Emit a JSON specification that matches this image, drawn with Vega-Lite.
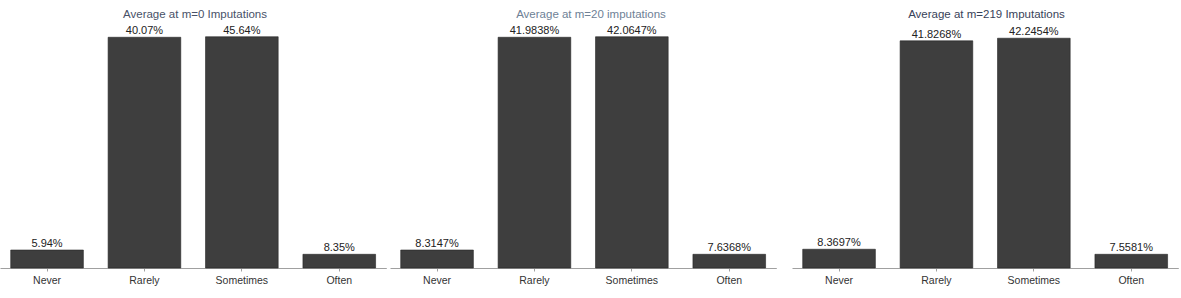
{
  "$schema": "https://vega.github.io/schema/vega-lite/v6.json",
  "padding": {"left": 0, "top": 8, "right": 0, "bottom": 0},
  "background": "white",
  "spacing": 0,
  "data": {"values": [
    {"panel": 1, "cat": "Never", "bar": 8.3147, "label": "5.94%"},
    {"panel": 1, "cat": "Rarely", "bar": 41.9838, "label": "40.07%"},
    {"panel": 1, "cat": "Sometimes", "bar": 42.0647, "label": "45.64%"},
    {"panel": 1, "cat": "Often", "bar": 7.6368, "label": "8.35%"},
    {"panel": 2, "cat": "Never", "bar": 8.3147, "label": "8.3147%"},
    {"panel": 2, "cat": "Rarely", "bar": 41.9838, "label": "41.9838%"},
    {"panel": 2, "cat": "Sometimes", "bar": 42.0647, "label": "42.0647%"},
    {"panel": 2, "cat": "Often", "bar": 7.6368, "label": "7.6368%"},
    {"panel": 3, "cat": "Never", "bar": 8.3697, "label": "8.3697%"},
    {"panel": 3, "cat": "Rarely", "bar": 41.8268, "label": "41.8268%"},
    {"panel": 3, "cat": "Sometimes", "bar": 42.2454, "label": "42.2454%"},
    {"panel": 3, "cat": "Often", "bar": 7.5581, "label": "7.5581%"}
  ]},
  "config": {
    "view": {"stroke": null},
    "font": "Liberation Sans",
    "axisX": {"title": null, "labelAngle": 0, "labelFontSize": 10.5, "labelColor": "#333333", "domainColor": "#a0a0a0", "tickColor": "#a0a0a0", "tickSize": 3, "labelPadding": 4, "labelFont": "Liberation Sans"},
    "title": {"fontSize": 11.5, "fontWeight": "normal", "font": "Liberation Sans", "baseline": "alphabetic", "offset": 2, "anchor": "middle"}
  },
  "hconcat": [
    {
      "width": 390, "height": 246,
      "title": {"text": "Average at m=0 Imputations", "color": "#485168"},
      "transform": [{"filter": "datum.panel == 1"}],
      "encoding": {
        "x": {"field": "cat", "type": "nominal", "sort": ["Never", "Rarely", "Sometimes", "Often"], "scale": {"range": [0, 386.3], "paddingInner": 0.254, "paddingOuter": 0.11}},
        "y": {"field": "bar", "type": "quantitative", "scale": {"domain": [5.47, 44.4], "zero": false, "clamp": true}, "axis": null}
      },
      "layer": [
        {"mark": {"type": "bar", "color": "#3e3e3e", "stroke": "#262626", "strokeWidth": 0.6}},
        {"mark": {"type": "text", "baseline": "bottom", "dy": -1, "fontSize": 11, "color": "#222222"}, "encoding": {"text": {"field": "label"}}}
      ]
    },
    {
      "width": 402, "height": 246,
      "title": {"text": "Average at m=20 imputations", "color": "#6e8196"},
      "transform": [{"filter": "datum.panel == 2"}],
      "encoding": {
        "x": {"field": "cat", "type": "nominal", "sort": ["Never", "Rarely", "Sometimes", "Often"], "scale": {"range": [0, 386.3], "paddingInner": 0.254, "paddingOuter": 0.11}},
        "y": {"field": "bar", "type": "quantitative", "scale": {"domain": [5.47, 44.4], "zero": false, "clamp": true}, "axis": null}
      },
      "layer": [
        {"mark": {"type": "bar", "color": "#3e3e3e", "stroke": "#262626", "strokeWidth": 0.6}},
        {"mark": {"type": "text", "baseline": "bottom", "dy": -1, "fontSize": 11, "color": "#222222"}, "encoding": {"text": {"field": "label"}}}
      ]
    },
    {
      "width": 389, "height": 246,
      "title": {"text": "Average at m=219 Imputations", "color": "#384259"},
      "transform": [{"filter": "datum.panel == 3"}],
      "encoding": {
        "x": {"field": "cat", "type": "nominal", "sort": ["Never", "Rarely", "Sometimes", "Often"], "scale": {"range": [0, 386.3], "paddingInner": 0.254, "paddingOuter": 0.11}},
        "y": {"field": "bar", "type": "quantitative", "scale": {"domain": [5.36, 44.85], "zero": false, "clamp": true}, "axis": null}
      },
      "layer": [
        {"mark": {"type": "bar", "color": "#3e3e3e", "stroke": "#262626", "strokeWidth": 0.6}},
        {"mark": {"type": "text", "baseline": "bottom", "dy": -1, "fontSize": 11, "color": "#222222"}, "encoding": {"text": {"field": "label"}}}
      ]
    }
  ]
}
